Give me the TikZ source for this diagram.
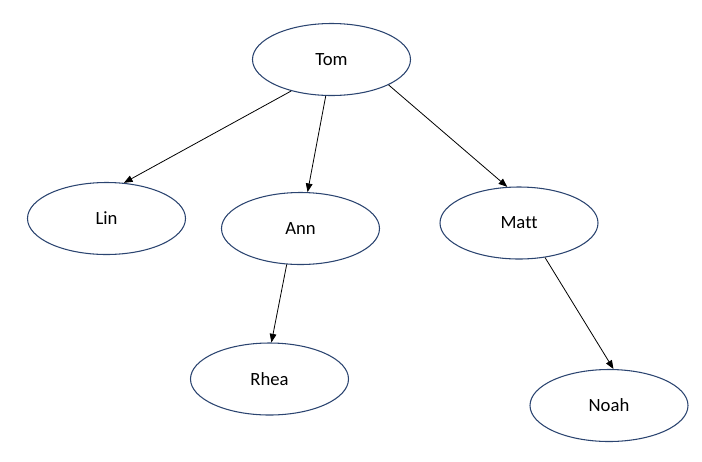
\documentclass[tikz,border=0pt]{standalone}
\usepackage{fontspec}
\setmainfont[Ligatures=NoCommon]{Carlito}
\usepackage{xcolor}
\usetikzlibrary{arrows.meta,shapes.geometric}
\definecolor{outline}{HTML}{2B4470}

\begin{document}
\begin{tikzpicture}[x=0.75pt, y=-0.75pt, every node/.style={font=\fontsize{14}{16}\selectfont},
  person/.style={draw=outline, ellipse, line width=0.8pt, inner sep=0pt, minimum width=118.5pt, minimum height=54pt},
  arr/.style={-{Triangle[length=6.5pt, width=5pt]}, line width=0.6pt}]
\useasboundingbox (0,0) rectangle (702,461);
\node[person] (tom) at (331.5,59.5) {Tom};
\node[person] (lin) at (106.5,218.5) {Lin};
\node[person] (ann) at (300.5,228.5) {Ann};
\node[person] (matt) at (519,223) {Matt};
\node[person] (rhea) at (269.5,379) {Rhea};
\node[person] (noah) at (609,405.5) {Noah};
\draw[arr] (tom.218.6) -- (lin.64.9);
\draw[arr] (tom.261.9) -- (ann.79.8);
\draw[arr] (tom.336.4) -- (matt.108);
\draw[arr] (ann.249.4) -- (rhea.87.5);
\draw[arr] (matt.307) -- (noah.83.7);
\end{tikzpicture}
\end{document}
